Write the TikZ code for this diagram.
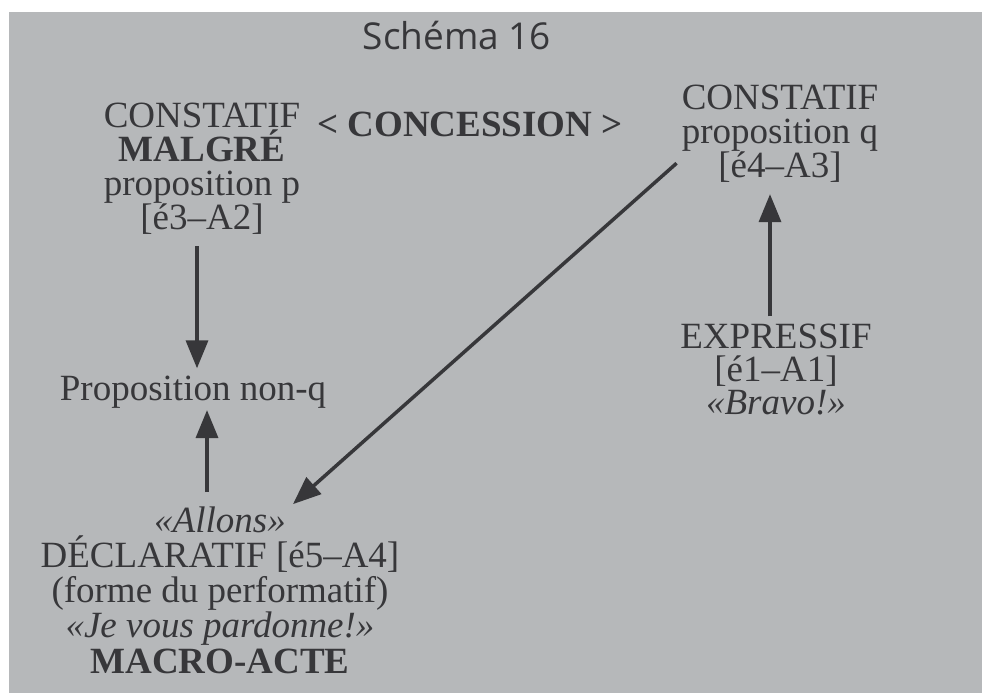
\documentclass[tikz,border=0pt]{standalone}
\usepackage{fontspec}
\setmainfont{Liberation Serif}
\newfontfamily\titlefont{Open Sans}
\usepackage{tikz}
\usetikzlibrary{arrows.meta}
\definecolor{ink}{RGB}{55,55,58}
\definecolor{paper}{RGB}{182,184,186}

\begin{document}
\begin{tikzpicture}[
    x=1pt, y=-1pt,
    txt/.style={align=center, anchor=base, text=ink, inner sep=2pt, font=\fontsize{37}{34}\selectfont},
    arrow/.style={-{Triangle[length=28pt, width=22pt]}, line width=3.5pt, draw=ink}
]

% Page
\fill[white] (0,0) rectangle (982,693);
\fill[paper] (9,12) rectangle (982,693);
\useasboundingbox (0,0) rectangle (982,693);

% Title
\node[txt, font=\titlefont\fontsize{37}{40}\selectfont] (title) at (457,50) {Schéma 16};

% Top row (base = last line)
\node[txt] (constat1) at (202,229) {CONSTATIF\\\textbf{MALGRÉ}\\proposition p\\{[}é3–A2{]}};
\node[txt, font=\bfseries\fontsize{37}{34}\selectfont] (concession) at (470,136) {< CONCESSION >};
\node[txt] (constat2) at (780,177) {CONSTATIF\\proposition q\\{[}é4–A3{]}};

% Middle
\node[txt] (nonq) at (193,400) {Proposition non-q};
\node[txt, font=\fontsize{37}{33}\selectfont] (expressif) at (776,414) {EXPRESSIF\\{[}é1–A1{]}\\\textit{«Bravo!»}};

% Macro-acte
\node[txt, font=\fontsize{37}{35.25}\selectfont] (macro) at (220,673) {\textit{«Allons»}\\DÉCLARATIF {[}é5–A4{]}\\(forme du performatif)\\\textit{«Je vous pardonne!»}\\\textbf{MACRO-ACTE}};

% Arrows
\draw[arrow, shorten <=10pt, shorten >=5pt] (constat1.south -| 197,0) -- (nonq.north -| 197,0);
\draw[arrow, shorten <=12pt] (macro.north -| 207,0) -- (nonq.south -| 207,0);
\draw[arrow] ([xshift=-3pt, yshift=-30pt]constat2.west) -- ([xshift=73pt]macro.north);
\draw[arrow, shorten <=5pt, shorten >=10pt] (expressif.north -| 770,0) -- (constat2.south -| 770,0);

\end{tikzpicture}
\end{document}
